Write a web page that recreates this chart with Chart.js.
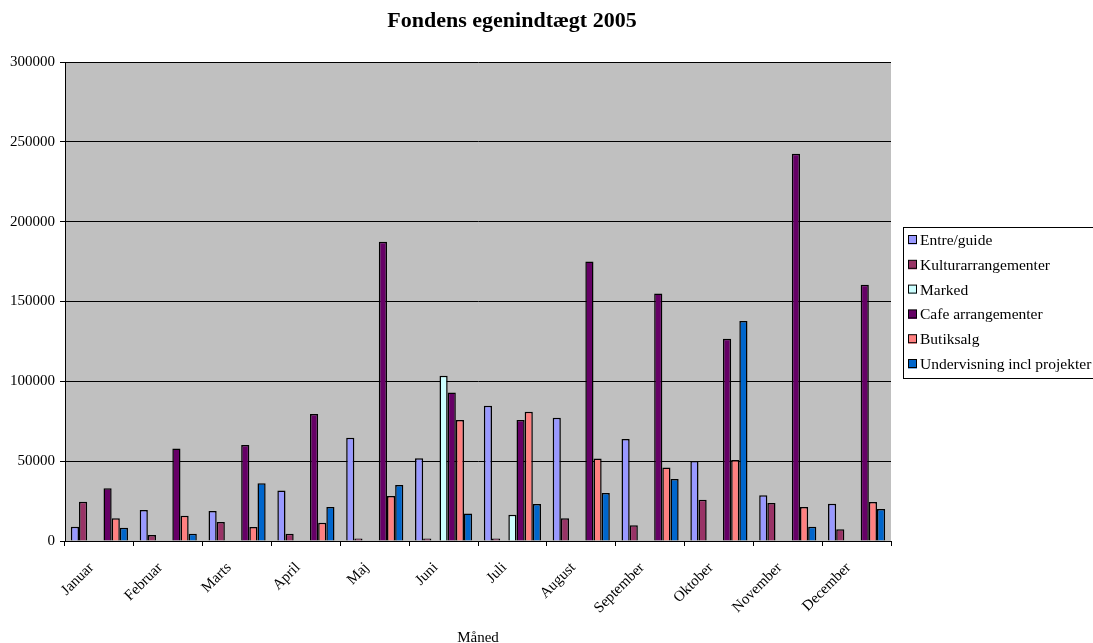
<!DOCTYPE html>
<html>
<head>
<meta charset="utf-8">
<script src="https://cdn.jsdelivr.net/npm/chart.js@4"></script>
<style>
html,body{margin:0;padding:0;background:#fff;}
#wrap{width:1093px;height:643px;position:relative;}
</style>
</head>
<body>
<div id="wrap"><canvas id="c" width="1093" height="643"></canvas></div>
<script>
const chartTitle = "Fondens egenindtægt 2005";
const axisTitle = "Måned";
const months = ["Januar","Februar","Marts","April","Maj","Juni","Juli","August","September","Oktober","November","December"];
const seriesNames = ["Entre/guide","Kulturarrangementer","Marked","Cafe arrangementer","Butiksalg","Undervisning incl projekter"];
const entre  = [9000, 19400, 18800, 31700, 64700, 51800, 84700, 77200, 63900, 50100, 28600, 23400];
const kultur = [24600, 3800, 11900, 4600, 1500, 1500, 1500, 14200, 9800, 25900, 23800, 7300];
const blank  = [null,null,null,null,null,null,null,null,null,null,null,null];
const marked = [null,null,null,null,null,103500,16500,null,null,null,null,null];
const cafe   = [33000, 58000, 60100, 79500, 187500, 93000, 75800, 175000, 155000, 126700, 242500, 160500];
const butik  = [14200, 15800, 8800, 11500, 28200, 75800, 81000, 51600, 46100, 50700, 21300, 24400];
const under  = [8300, 4600, 36100, 21300, 35100, 17300, 23200, 30100, 38800, 137800, 9000, 20000];
const yTicks = [0, 50000, 100000, 150000, 200000, 250000, 300000];

const colors = ["#9999FF","#993366","#CCFFFF","#660066","#FF8080","#0066CC"];
const FONT = "'Liberation Serif', 'DejaVu Serif', serif";

function ds(label, data, color, inLegend) {
  return {label, data, backgroundColor: color, borderColor: "#000", borderWidth: 1.5,
          borderSkipped: 'start', inLegend};
}
const datasets = [
  ds(seriesNames[0], entre, colors[0], true),
  ds(seriesNames[1], kultur, colors[1], true),
  ds("", blank, "#ffffff", false),
  ds(seriesNames[2], marked, colors[2], true),
  ds(seriesNames[3], cafe, colors[3], true),
  ds(seriesNames[4], butik, colors[4], true),
  ds(seriesNames[5], under, colors[5], true)
];

const plotBg = {
  id: 'plotBg',
  beforeDraw(chart) {
    const {ctx, chartArea: a} = chart;
    ctx.save();
    ctx.fillStyle = '#C0C0C0';
    ctx.fillRect(a.left, a.top, a.right - a.left, a.bottom - a.top);
    ctx.restore();
  }
};

const titleAndLegend = {
  id: 'titleAndLegend',
  afterDraw(chart) {
    const ctx = chart.ctx;
    ctx.save();
    ctx.fillStyle = '#000';
    ctx.font = "bold 22px " + FONT;
    ctx.textAlign = 'center';
    ctx.textBaseline = 'middle';
    ctx.fillText(chartTitle, 512, 21);
    const x0 = 903, y0 = 227, w = 195, h = 151;
    ctx.fillStyle = '#fff';
    ctx.fillRect(x0, y0, w, h);
    ctx.strokeStyle = '#000';
    ctx.lineWidth = 1;
    ctx.strokeRect(x0 + 0.5, y0 + 0.5, w, h);
    ctx.font = "15.5px " + FONT;
    ctx.textBaseline = 'middle';
    ctx.textAlign = 'left';
    let i = 0;
    chart.data.datasets.forEach(d => {
      if (!d.inLegend) return;
      const cy = 240 + i * 24.8;
      ctx.fillStyle = d.backgroundColor;
      ctx.fillRect(908, cy - 4.5, 9, 9);
      ctx.strokeStyle = '#000';
      ctx.strokeRect(908.5, cy - 4.5, 8, 8);
      ctx.fillStyle = '#000';
      ctx.fillText(d.label, 920, cy + 1);
      i++;
    });
    ctx.restore();
  }
};

new Chart(document.getElementById('c'), {
  type: 'bar',
  data: { labels: months, datasets },
  plugins: [plotBg, titleAndLegend],
  options: {
    responsive: false,
    animation: false,
    devicePixelRatio: 1,
    layout: { padding: { left: 0, right: 202, top: 62, bottom: 0 } },
    datasets: { bar: { categoryPercentage: 0.83, barPercentage: 1.0 } },
    plugins: {
      legend: { display: false },
      tooltip: { enabled: false },
      title: { display: false }
    },
    scales: {
      x: {
        offset: true,
        grid: { display: true, drawOnChartArea: false, drawTicks: true, tickLength: 5, color: '#000', offset: true },
        border: { display: true, color: '#000', width: 1 },
        ticks: { color: '#000', font: { family: FONT, size: 15 }, maxRotation: 45, minRotation: 45, padding: 13, labelOffset: -8, autoSkip: false },
        title: { display: true, text: axisTitle, color: '#000', font: { family: FONT, size: 15 }, padding: { top: 0, bottom: -4 } },
        afterFit(scale) { scale.height = 102; }
      },
      y: {
        min: 0, max: 300000,
        afterBuildTicks(scale) { scale.ticks = yTicks.map(v => ({ value: v })); },
        grid: { color: '#000', lineWidth: 1, tickLength: 5, drawTicks: true },
        border: { display: true, color: '#000', width: 1 },
        ticks: { color: '#000', font: { family: FONT, size: 15 }, padding: 5, callback: v => String(v) },
        afterFit(scale) { scale.width = 65; }
      }
    }
  }
});
</script>
</body>
</html>
